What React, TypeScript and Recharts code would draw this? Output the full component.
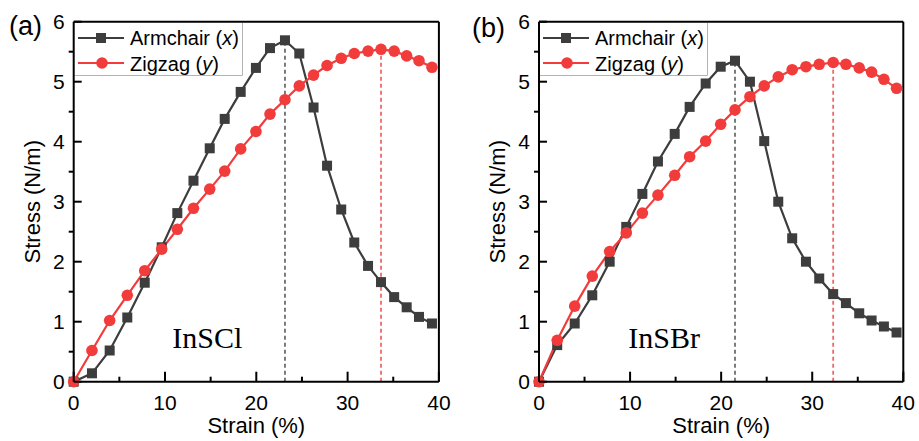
import React from 'react';
import { LineChart, Line, XAxis, YAxis, ReferenceLine, ReferenceDot, Legend } from 'recharts';

// ---- Data ----
const strainInSCl = [0, 2.0, 3.94, 5.87, 7.78, 9.64, 11.35, 13.12, 14.9, 16.54, 18.29, 19.96, 21.5, 23.14, 24.71, 26.27, 27.75, 29.3, 30.73, 32.24, 33.66, 35.1, 36.47, 37.82, 39.24];
const armchairInSCl = [0, 0.14, 0.52, 1.07, 1.65, 2.24, 2.81, 3.35, 3.89, 4.38, 4.83, 5.23, 5.56, 5.69, 5.47, 4.57, 3.6, 2.87, 2.32, 1.93, 1.66, 1.41, 1.24, 1.08, 0.97];
const zigzagInSCl = [0, 0.52, 1.02, 1.44, 1.85, 2.21, 2.54, 2.89, 3.21, 3.51, 3.88, 4.17, 4.46, 4.7, 4.93, 5.11, 5.27, 5.39, 5.47, 5.51, 5.54, 5.51, 5.43, 5.35, 5.24];

const strainInSBr = [0, 2.0, 3.92, 5.85, 7.76, 9.58, 11.35, 13.06, 14.9, 16.54, 18.3, 19.95, 21.52, 23.16, 24.73, 26.27, 27.8, 29.31, 30.77, 32.3, 33.7, 35.16, 36.52, 37.87, 39.26];
const armchairInSBr = [0, 0.61, 0.97, 1.44, 2.0, 2.58, 3.13, 3.67, 4.13, 4.58, 4.97, 5.25, 5.35, 5.0, 4.01, 3.0, 2.39, 2.0, 1.72, 1.46, 1.31, 1.14, 1.02, 0.92, 0.82];
const zigzagInSBr = [0, 0.69, 1.26, 1.76, 2.17, 2.48, 2.81, 3.11, 3.44, 3.75, 4.01, 4.29, 4.53, 4.75, 4.93, 5.08, 5.2, 5.25, 5.29, 5.32, 5.29, 5.23, 5.16, 5.04, 4.89];

const xTicks = [0, 5, 10, 15, 20, 25, 30, 35, 40];
const yTicks = [0, 0.5, 1, 1.5, 2, 2.5, 3, 3.5, 4, 4.5, 5, 5.5, 6];
const seriesNames = ['Armchair', 'Zigzag'];
const seriesAxes = ['x', 'y'];

const FONT = 'Arial, "Liberation Sans", sans-serif';
const SERIF = '"Times New Roman", "Liberation Serif", serif';
const ARM_COLOR = '#3d3d3d';
const ZIG_COLOR = '#f23c3c';
const ARM_DASH = '#6e6e6e';
const ZIG_DASH = '#ee6a6a';
const SQ = 10;
const CR = 5.8;

type Pt = { x: number; y: number };
const build = (strain: number[], stress: number[]): Pt[] => strain.map((x, i) => ({ x, y: stress[i] }));
const peakOf = (s: Pt[]) => s.reduce((a, b) => (b.y > a.y ? b : a));

// ---- ticks ----
const BottomTick = (props: any) => {
  const { x, y, payload } = props;
  const major = payload.value % 10 === 0;
  return (
    <g>
      <line x1={x} x2={x} y1={y} y2={y - (major ? 10 : 5)} stroke="#000" strokeWidth={2} />
      {major && (
        <text x={x} y={y + 27.8} textAnchor="middle" fontSize={21} fontFamily={FONT} fill="#000">
          {payload.value}
        </text>
      )}
    </g>
  );
};

const LeftTick = (props: any) => {
  const { x, y, payload } = props;
  const major = Number.isInteger(payload.value);
  return (
    <g>
      <line x1={x - (major ? 0 : 5)} x2={x + (major ? 8 : 0)} y1={y} y2={y} stroke="#000" strokeWidth={2} />
      {major && (
        <text x={x - 9} y={y} dy="0.36em" textAnchor="end" fontSize={21} fontFamily={FONT} fill="#000">
          {payload.value}
        </text>
      )}
    </g>
  );
};

const RightTick = (props: any) => {
  const { x, y } = props;
  return <line x1={x} x2={x - 7} y1={y} y2={y} stroke="#000" strokeWidth={2} />;
};

const SquareDot = (props: any) => {
  const { cx, cy } = props;
  if (cx == null || cy == null) return <g />;
  return <rect x={cx - SQ / 2} y={cy - SQ / 2} width={SQ} height={SQ} fill={ARM_COLOR} />;
};
const CircleDot = (props: any) => {
  const { cx, cy } = props;
  if (cx == null || cy == null) return <g />;
  return <circle cx={cx} cy={cy} r={CR} fill={ZIG_COLOR} />;
};

const LegendBox = () => (
  <svg width={168} height={53} style={{ display: 'block' }}>
    <rect x={0} y={0} width={168} height={53} fill="#fff" />
    <path d="M0,52.5 H167.5 V0" fill="none" stroke="#b4b4b4" strokeWidth={1} />
    <line x1={3} x2={49} y1={15} y2={15} stroke={ARM_COLOR} strokeWidth={2.2} />
    <rect x={26 - SQ / 2} y={15 - SQ / 2} width={SQ} height={SQ} fill={ARM_COLOR} />
    <text x={55} y={22} fontSize={20} fontFamily={FONT} fill="#000">
      {seriesNames[0]} (<tspan fontStyle="italic">{seriesAxes[0]}</tspan>)
    </text>
    <line x1={3} x2={49} y1={40} y2={40} stroke={ZIG_COLOR} strokeWidth={2.2} />
    <circle cx={27} cy={40} r={CR} fill={ZIG_COLOR} />
    <text x={55} y={47.5} fontSize={20} fontFamily={FONT} fill="#000">
      {seriesNames[1]} (<tspan fontStyle="italic">{seriesAxes[1]}</tspan>)
    </text>
  </svg>
);

type PanelProps = {
  strain: number[];
  arm: number[];
  zig: number[];
  material: string;
  materialX: number;
  materialY: number;
  width: number;
  plot: { top: number; right: number; bottom: number; left: number };
};

const Panel = ({ strain, arm, zig, material, materialX, materialY, width, plot }: PanelProps) => {
  const armData = build(strain, arm);
  const zigData = build(strain, zig);
  const armPeak = peakOf(armData);
  const zigPeak = peakOf(zigData);
  // axes take 1px each; margins compensate so the plot box lands at `plot`
  const margin = { top: plot.top, right: plot.right - 1, bottom: plot.bottom - 1, left: plot.left - 1 };
  const plotW = width - plot.left - plot.right;
  const plotH = 441 - plot.top - plot.bottom;
  return (
    <LineChart width={width} height={441} margin={margin}>
      <XAxis
        type="number"
        dataKey="x"
        domain={[0, 40]}
        ticks={xTicks}
        interval={0}
        height={1}
        tickSize={0}
        tickMargin={0}
        tickLine={false}
        tick={<BottomTick />}
        axisLine={{ stroke: '#000', strokeWidth: 2 }}
        label={{
          content: () => (
            <text
              x={plot.left + plotW / 2}
              y={plot.top + plotH + 51.5}
              textAnchor="middle"
              fontSize={22}
              fontFamily={FONT}
              fill="#000"
            >
              Strain (%)
            </text>
          ),
        }}
      />
      <YAxis
        type="number"
        domain={[0, 6]}
        ticks={yTicks}
        interval={0}
        width={1}
        tickSize={0}
        tickMargin={0}
        tickLine={false}
        tick={<LeftTick />}
        axisLine={{ stroke: '#000', strokeWidth: 2 }}
        label={{
          content: () => {
            const cx = plot.left - 42;
            const cy = plot.top + plotH / 2;
            return (
              <text
                x={cx}
                y={cy}
                transform={`rotate(-90 ${cx} ${cy})`}
                textAnchor="middle"
                dy="0.36em"
                fontSize={22}
                fontFamily={FONT}
                fill="#000"
              >
                Stress (N/m)
              </text>
            );
          },
        }}
      />
      <YAxis
        yAxisId="right"
        orientation="right"
        type="number"
        domain={[0, 6]}
        ticks={yTicks}
        interval={0}
        width={1}
        tickSize={0}
        tickMargin={0}
        tickLine={false}
        tick={<RightTick />}
        axisLine={{ stroke: '#000', strokeWidth: 2 }}
      />
      <ReferenceLine y={6} stroke="#000" strokeWidth={2} />
      <ReferenceLine
        segment={[{ x: armPeak.x, y: 0 }, { x: armPeak.x, y: armPeak.y }]}
        stroke={ARM_DASH}
        strokeWidth={1.8}
        strokeDasharray="4 3"
      />
      <ReferenceLine
        segment={[{ x: zigPeak.x, y: 0 }, { x: zigPeak.x, y: zigPeak.y }]}
        stroke={ZIG_DASH}
        strokeWidth={1.8}
        strokeDasharray="4 3"
      />
      <ReferenceDot
        x={materialX}
        y={materialY}
        r={0}
        shape={(p: any) => (
          <text x={p.cx} y={p.cy} fontSize={30} fontFamily={SERIF} fill="#000">
            {material}
          </text>
        )}
      />
      <Line
        data={armData}
        dataKey="y"
        name={seriesNames[0]}
        stroke={ARM_COLOR}
        strokeWidth={2.2}
        dot={(p: any) => <SquareDot key={`a${p.index}`} {...p} />}
        activeDot={false}
        isAnimationActive={false}
      />
      <Line
        data={zigData}
        dataKey="y"
        name={seriesNames[1]}
        stroke={ZIG_COLOR}
        strokeWidth={2.2}
        dot={(p: any) => <CircleDot key={`z${p.index}`} {...p} />}
        activeDot={false}
        isAnimationActive={false}
      />
      <Legend
        layout="vertical"
        align="center"
        verticalAlign="middle"
        content={() => <LegendBox />}
        wrapperStyle={{ left: plot.left + 1, top: plot.top + 1, width: 168, height: 53, margin: 0 }}
      />
    </LineChart>
  );
};

export default function App() {
  return (
    <div style={{ position: 'absolute', left: 0, top: 0, width: 919, height: 441, background: '#fff' }}>
      <div style={{ position: 'absolute', left: 0, top: 0 }}>
        <Panel
          strain={strainInSCl}
          arm={armchairInSCl}
          zig={zigzagInSCl}
          material="InSCl"
          materialX={10.8}
          materialY={0.56}
          width={460}
          plot={{ top: 21.7, right: 21.1, bottom: 59.3, left: 73.7 }}
        />
      </div>
      <div style={{ position: 'absolute', left: 460, top: 0 }}>
        <Panel
          strain={strainInSBr}
          arm={armchairInSBr}
          zig={zigzagInSBr}
          material="InSBr"
          materialX={9.8}
          materialY={0.56}
          width={459}
          plot={{ top: 21.7, right: 15.7, bottom: 59.3, left: 79 }}
        />
      </div>
      <svg width={919} height={60} style={{ position: 'absolute', left: 0, top: 0, pointerEvents: 'none' }}>
        <text x={9} y={35} fontSize={27} fontFamily={FONT} fill="#000">(a)</text>
        <text x={472} y={37} fontSize={27} fontFamily={FONT} fill="#000">(b)</text>
      </svg>
    </div>
  );
}
